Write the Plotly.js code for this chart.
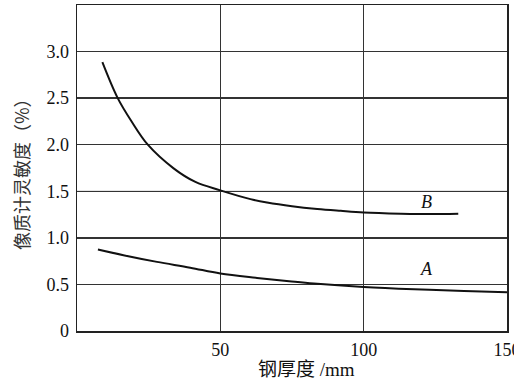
<!DOCTYPE html>
<html>
<head>
<meta charset="utf-8">
<script src="https://cdn.plot.ly/plotly-3.0.1.min.js"></script>
<style>html,body{margin:0;padding:0;background:#fff;}#chart{width:514px;height:380px;}</style>
</head>
<body>
<div id="chart"></div>
<script>
// Curve B
var bThickness = [8.85, 14.2, 19.1, 24.7, 33.7, 41.3, 50, 60.5, 66.3, 75, 83.8, 92, 100, 113, 123, 133];
var bSensitivity = [2.886, 2.5, 2.247, 2.0, 1.746, 1.60, 1.51, 1.416, 1.38, 1.34, 1.31, 1.29, 1.273, 1.26, 1.255, 1.26];
// Curve A
var aThickness = [7.3, 16.2, 27.9, 39.5, 50, 62.8, 74, 82.6, 100, 117.6, 135, 150];
var aSensitivity = [0.875, 0.814, 0.742, 0.68, 0.617, 0.57, 0.535, 0.51, 0.473, 0.448, 0.43, 0.415];
// Ticks
var xTickVals = [50, 100, 150];
var xTickText = ['50', '100', '150'];
var yTickVals = [0, 0.5, 1.0, 1.5, 2.0, 2.5, 3.0];
var yTickText = ['0', '0.5', '1.0', '1.5', '2.0', '2.5', '3.0'];
// Labels
var curveLabels = ['B', 'A'];
var labelX = [122, 122];
var labelY = [1.38, 0.67];
var xTitle = '钢厚度 /mm';
var yTitle = '像质计灵敏度（%）';

var serif = 'Times New Roman, Liberation Serif, DejaVu Serif, serif';
var cjk = 'Times New Roman, Liberation Serif, Noto Sans CJK SC, serif';
var cjkOnly = 'Noto Sans CJK SC';

var traces = [
  {x: bThickness, y: bSensitivity, mode: 'lines', line: {color: '#111', width: 2, shape: 'spline', smoothing: 1}, hoverinfo: 'skip'},
  {x: aThickness, y: aSensitivity, mode: 'lines', line: {color: '#111', width: 2, shape: 'spline', smoothing: 1}, hoverinfo: 'skip'}
];

var pw = 514 - 77 - 7, ph = 380 - 5 - 49;
var annotations = curveLabels.map(function(t, i){
  return {x: labelX[i], y: labelY[i], xref: 'x', yref: 'y', text: '<i>' + t + '</i>', showarrow: false,
    font: {family: serif, size: 18, color: '#111'}};
});
annotations.push({x: (306 - 77) / pw, y: (380 - 49 - 369) / ph, xref: 'paper', yref: 'paper', yanchor: 'middle',
  text: xTitle, showarrow: false, font: {family: cjk, size: 19, color: '#111'}});
annotations.push({x: (21 - 77) / pw, y: (331 - 170) / ph, xref: 'paper', yref: 'paper', xanchor: 'center', yanchor: 'middle',
  textangle: -90, text: yTitle, showarrow: false, font: {family: cjkOnly, size: 18, color: '#333'}});

var layout = {
  width: 514, height: 380,
  margin: {l: 77, r: 7, t: 5, b: 49},
  paper_bgcolor: '#fff', plot_bgcolor: '#fff',
  font: {family: serif, size: 18, color: '#111'},
  showlegend: false,
  xaxis: {range: [0, 150], tickvals: xTickVals, ticktext: xTickText, showgrid: true, gridcolor: '#333', gridwidth: 1.3,
    zeroline: false, showline: true, mirror: true, linecolor: '#222', linewidth: 1.5,
    ticks: 'outside', ticklen: 2, tickcolor: 'rgba(0,0,0,0)', ticklabeloverflow: 'allow',
    tickfont: {family: serif, size: 18, color: '#111'}, fixedrange: true},
  yaxis: {range: [0, 3.5], tickvals: yTickVals, ticktext: yTickText, showgrid: true, gridcolor: '#333', gridwidth: 1.3,
    zeroline: false, showline: true, mirror: true, linecolor: '#222', linewidth: 1.5,
    ticks: 'outside', ticklen: 3, tickcolor: 'rgba(0,0,0,0)',
    tickfont: {family: serif, size: 18, color: '#111'}, fixedrange: true},
  annotations: annotations,
  shapes: [{type: 'line', xref: 'paper', yref: 'y', x0: 0, x1: 1, y0: 1.5, y1: 1.5, line: {color: '#999', width: 1.3}, layer: 'below'}]
};

Plotly.newPlot('chart', traces, layout, {staticPlot: true});
</script>
</body>
</html>
